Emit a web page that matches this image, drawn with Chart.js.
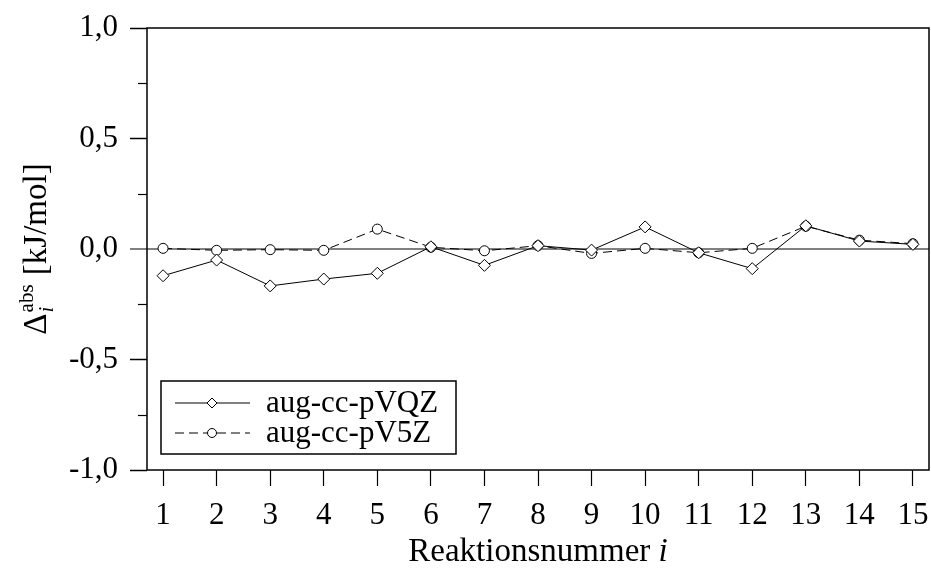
<!DOCTYPE html>
<html>
<head>
<meta charset="utf-8">
<script src="https://cdn.jsdelivr.net/npm/chart.js@4/dist/chart.umd.min.js"></script>
<style>
  body { margin: 0; background: #fff; }
  #wrap { width: 931px; height: 570px; }
</style>
</head>
<body>
<div id="wrap"><canvas id="myChart" width="931" height="570"></canvas></div>
<script>
var reactions = [1, 2, 3, 4, 5, 6, 7, 8, 9, 10, 11, 12, 13, 14, 15];
var pVQZ = [-0.121, -0.05, -0.167, -0.136, -0.11, 0.01, -0.074, 0.015, -0.005, 0.10, -0.017, -0.089, 0.105, 0.036, 0.021];
var pV5Z = [0.003, -0.006, -0.003, -0.006, 0.09, 0.008, -0.008, 0.015, -0.02, 0.003, -0.017, 0.003, 0.103, 0.04, 0.024];
var yTicks = [-1.0, -0.5, 0.0, 0.5, 1.0];
var yMinorTicks = [-0.75, -0.25, 0.25, 0.75];
var seriesNames = ['aug-cc-pVQZ', 'aug-cc-pV5Z'];

var serif = "'Liberation Serif', 'DejaVu Serif', serif";

function toPoints(vals) {
    return reactions.map(function(r, i) { return {x: r, y: vals[i]}; });
}

function isZero(ctx) {
    return ctx.tick && Math.abs(ctx.tick.value) < 1e-9;
}

// frame, minor ticks, axis titles, legend
var decor = {
    id: 'decor',
    beforeDatasetsDraw: function(chart) {
        var c = chart.ctx, a = chart.chartArea, y = chart.scales.y;
        c.save();
        c.strokeStyle = '#000';
        c.lineWidth = 1.5;
        c.strokeRect(a.left, a.top, a.right - a.left, a.bottom - a.top);
        c.lineWidth = 1.2;
        yMinorTicks.forEach(function(v) {
            var py = Math.round(y.getPixelForValue(v)) + 0.5;
            c.beginPath();
            c.moveTo(a.left - 9, py);
            c.lineTo(a.left, py);
            c.stroke();
        });
        c.restore();
    },
    afterDraw: function(chart) {
        var c = chart.ctx, a = chart.chartArea;
        c.save();
        c.fillStyle = '#000';
        c.textBaseline = 'alphabetic';

        // x title
        c.font = '33px ' + serif;
        var t1 = 'Reaktionsnummer ';
        var w1 = c.measureText(t1).width;
        c.font = 'italic 33px ' + serif;
        var w2 = c.measureText('i').width;
        var cx = (a.left + a.right) / 2;
        var x0 = cx - (w1 + w2) / 2;
        c.font = '33px ' + serif;
        c.fillText(t1, x0, 561);
        c.font = 'italic 33px ' + serif;
        c.fillText('i', x0 + w1, 561);

        // y title, rotated
        c.translate(46, (a.top + a.bottom) / 2);
        c.rotate(-Math.PI / 2);
        c.font = '33px ' + serif;
        var wd = c.measureText('\u0394').width;
        c.font = '21px ' + serif;
        var ws = c.measureText('abs').width;
        c.font = '33px ' + serif;
        var wr = c.measureText(' [kJ/mol]').width;
        var tot = wd + ws + 2 + wr;
        var sx = -tot / 2;
        c.fillText('\u0394', sx, 0);
        c.font = '21px ' + serif;
        c.fillText('abs', sx + wd + 1, -13);
        c.font = 'italic 21px ' + serif;
        c.fillText('i', sx + wd + 1, 7);
        c.font = '33px ' + serif;
        c.fillText(' [kJ/mol]', sx + wd + ws + 2, 0);
        c.restore();

        // legend box
        c.save();
        var lx = a.left + 14, ly = a.bottom - 89, lw = 295, lh = 73;
        c.fillStyle = '#fff';
        c.fillRect(lx, ly, lw, lh);
        c.strokeStyle = '#000';
        c.lineWidth = 1.5;
        c.strokeRect(lx, ly, lw, lh);
        chart.data.datasets.forEach(function(ds, i) {
            var ry = ly + 22 + i * 30;
            c.strokeStyle = '#000';
            c.lineWidth = 1;
            c.setLineDash(ds.borderDash || []);
            c.beginPath();
            c.moveTo(lx + 14, ry);
            c.lineTo(lx + 89, ry);
            c.stroke();
            c.setLineDash([]);
            c.fillStyle = '#fff';
            c.beginPath();
            if (ds.pointStyle === 'rectRot') {
                c.moveTo(lx + 51 - 5, ry);
                c.lineTo(lx + 51, ry - 5);
                c.lineTo(lx + 51 + 5, ry);
                c.lineTo(lx + 51, ry + 5);
                c.closePath();
            } else {
                c.arc(lx + 51, ry, 4.5, 0, Math.PI * 2);
            }
            c.fill();
            c.stroke();
            c.fillStyle = '#000';
            c.font = '31px ' + serif;
            c.textBaseline = 'middle';
            c.fillText(ds.label, lx + 105, ry + 1);
        });
        c.restore();
    }
};

document.addEventListener("DOMContentLoaded", function(){
    var ctx = document.getElementById('myChart').getContext('2d');
    var chart = new Chart(ctx, {
        type: 'line',
        data: {
            datasets: [{
                label: seriesNames[0],
                data: toPoints(pVQZ),
                borderColor: '#000',
                borderWidth: 1,
                backgroundColor: '#fff',
                pointStyle: 'rectRot',
                pointRadius: 6,
                pointBorderWidth: 1,
                pointBorderColor: '#000',
                pointBackgroundColor: '#fff',
                tension: 0
            }, {
                label: seriesNames[1],
                data: toPoints(pV5Z),
                borderColor: '#000',
                borderWidth: 1,
                borderDash: [9, 5],
                backgroundColor: '#fff',
                pointStyle: 'circle',
                pointRadius: 5,
                pointBorderWidth: 1,
                pointBorderColor: '#000',
                pointBackgroundColor: '#fff',
                tension: 0
            }]
        },
        options: {
            responsive: false,
            animation: false,
            devicePixelRatio: 1,
            layout: { autoPadding: false, padding: { left: 0, right: 2, top: 28, bottom: 0 } },
            plugins: {
                legend: { display: false },
                tooltip: { enabled: false }
            },
            scales: {
                x: {
                    type: 'linear',
                    min: 0.7,
                    max: 15.3,
                    afterBuildTicks: function(s) {
                        s.ticks = reactions.map(function(v) { return {value: v}; });
                    },
                    afterFit: function(s) {
                        s.height = 100;
                        s.paddingLeft = 0;
                        s.paddingRight = 0;
                    },
                    border: { display: false },
                    grid: {
                        drawOnChartArea: false,
                        drawTicks: true,
                        tickLength: 16,
                        tickColor: '#000',
                        tickWidth: 1.2
                    },
                    ticks: {
                        color: '#000',
                        font: { family: serif, size: 31 },
                        padding: 11,
                        maxRotation: 0,
                        autoSkip: false
                    }
                },
                y: {
                    type: 'linear',
                    min: -1,
                    max: 1,
                    afterBuildTicks: function(s) {
                        s.ticks = yTicks.map(function(v) { return {value: v}; });
                    },
                    afterFit: function(s) {
                        s.width = 147;
                        s.paddingTop = 0;
                        s.paddingBottom = 0;
                    },
                    border: { display: false },
                    grid: {
                        drawOnChartArea: true,
                        drawTicks: true,
                        tickLength: 17,
                        color: function(c) { return isZero(c) ? '#808080' : 'rgba(0,0,0,0)'; },
                        lineWidth: function(c) { return isZero(c) ? 2 : 1; },
                        tickColor: function(c) { return isZero(c) ? '#808080' : '#000'; },
                        tickWidth: function(c) { return isZero(c) ? 2 : 1.5; }
                    },
                    ticks: {
                        color: '#000',
                        font: { family: serif, size: 31 },
                        padding: 12,
                        callback: function(v) { return v.toFixed(1).replace('.', ','); }
                    }
                }
            }
        },
        plugins: [decor]
    });
});
</script>
</body>
</html>
